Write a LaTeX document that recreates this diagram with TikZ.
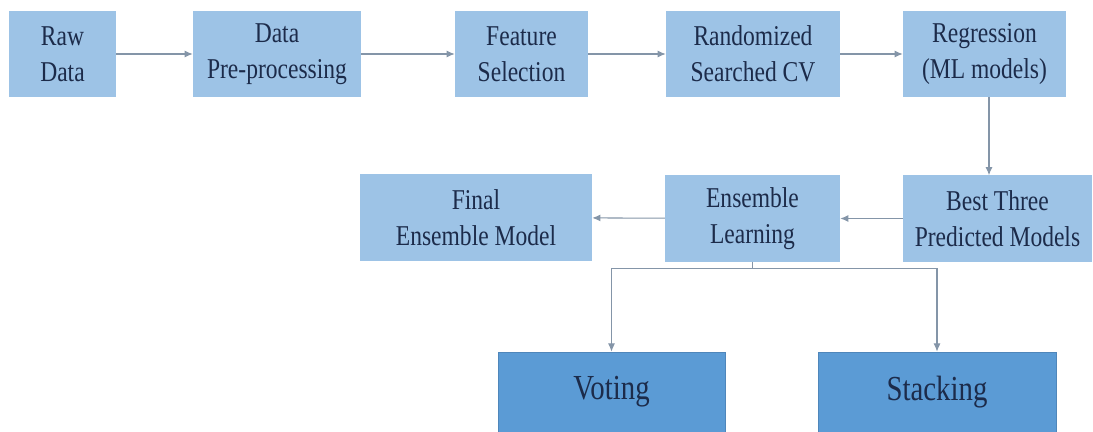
\documentclass[tikz,border=0pt]{standalone}
\usepackage{fontspec}
\setmainfont{Liberation Serif}[Ligatures=TeX]
\newfontfamily\boxfont{Liberation Serif}[FakeStretch=0.82]
\usepackage{tikz}
\usetikzlibrary{positioning, calc, arrows.meta}
\definecolor{boxlight}{HTML}{9DC3E6}
\definecolor{boxdark}{HTML}{5B9BD5}
\definecolor{boxedge}{HTML}{4F86BA}
\definecolor{textnavy}{HTML}{1C2B4A}
\definecolor{arrowgray}{HTML}{8495A8}
\tikzset{
	stepnode/.style={
			rectangle,
			fill=boxlight,
			draw=none,
			text=textnavy,
			align=center,
			inner sep=0pt,
			minimum height=2.58cm,
			font=\boxfont\fontsize{24.5}{30.6}\selectfont
		},
	methodnode/.style={
			stepnode,
			fill=boxdark,
			draw=boxedge,
			line width=0.6pt,
			minimum height=2.4cm,
			font=\boxfont\fontsize{30}{36}\selectfont
		},
	flow/.style={
			draw=arrowgray,
			line width=0.9pt,
			-{Latex[length=7pt,width=6pt]}
		}
}

\begin{document}
\begin{tikzpicture}[x=0.03cm, y=-0.03cm]
    \useasboundingbox (0,0) rectangle (1093,432);

    % top row
    \node[stepnode, minimum width=3.21cm] (raw) at (62.5,54)  {Raw\\Data};
    \node[stepnode, minimum width=5.04cm] (prep) at (277,54)  {Data\\Pre-processing};
    \node[stepnode, minimum width=3.99cm] (feat) at (521.5,54)  {Feature\\Selection};
    \node[stepnode, minimum width=5.22cm] (rand) at (753,54)  {Randomized\\Searched CV};
    \node[stepnode, minimum width=4.89cm] (regr) at (984.5,54)  {Regression\\(ML models)};

    % middle row
    \node[stepnode, minimum width=5.67cm] (best) at (997.5,218.5)  {Best Three\\Predicted Models};
    \node[stepnode, minimum width=5.25cm] (ens) at (752.5,218.5)  {Ensemble\\Learning};
    \node[stepnode, minimum width=6.96cm] (final) at (476,217.5)  {Final\\Ensemble Model};

    % bottom row
    \node[methodnode, minimum width=6.81cm] (vote) at (611.5,392)  {Voting};
    \node[methodnode, minimum width=7.14cm] (stack) at (937,392)  {Stacking};

    \draw[flow] (raw) -- (prep);
    \draw[flow] (prep) -- (feat);
    \draw[flow] (feat) -- (rand);
    \draw[flow] (rand) -- (regr);
    \coordinate (regrdown) at ($(regr.south)+(4.5,0)$);
    \draw[flow] (regrdown) -- (regrdown |- best.north);
    \draw[flow] (best) -- (ens);
    \draw[flow] (ens) -- (final);

    \coordinate (split) at ($(ens.south)+(0,7)$);
    \draw[draw=arrowgray, line width=0.9pt] (ens.south) -- (split);
    \draw[flow] (split) -| (vote.north);
    \draw[flow] (split) -| (stack.north);
\end{tikzpicture}
\end{document}
